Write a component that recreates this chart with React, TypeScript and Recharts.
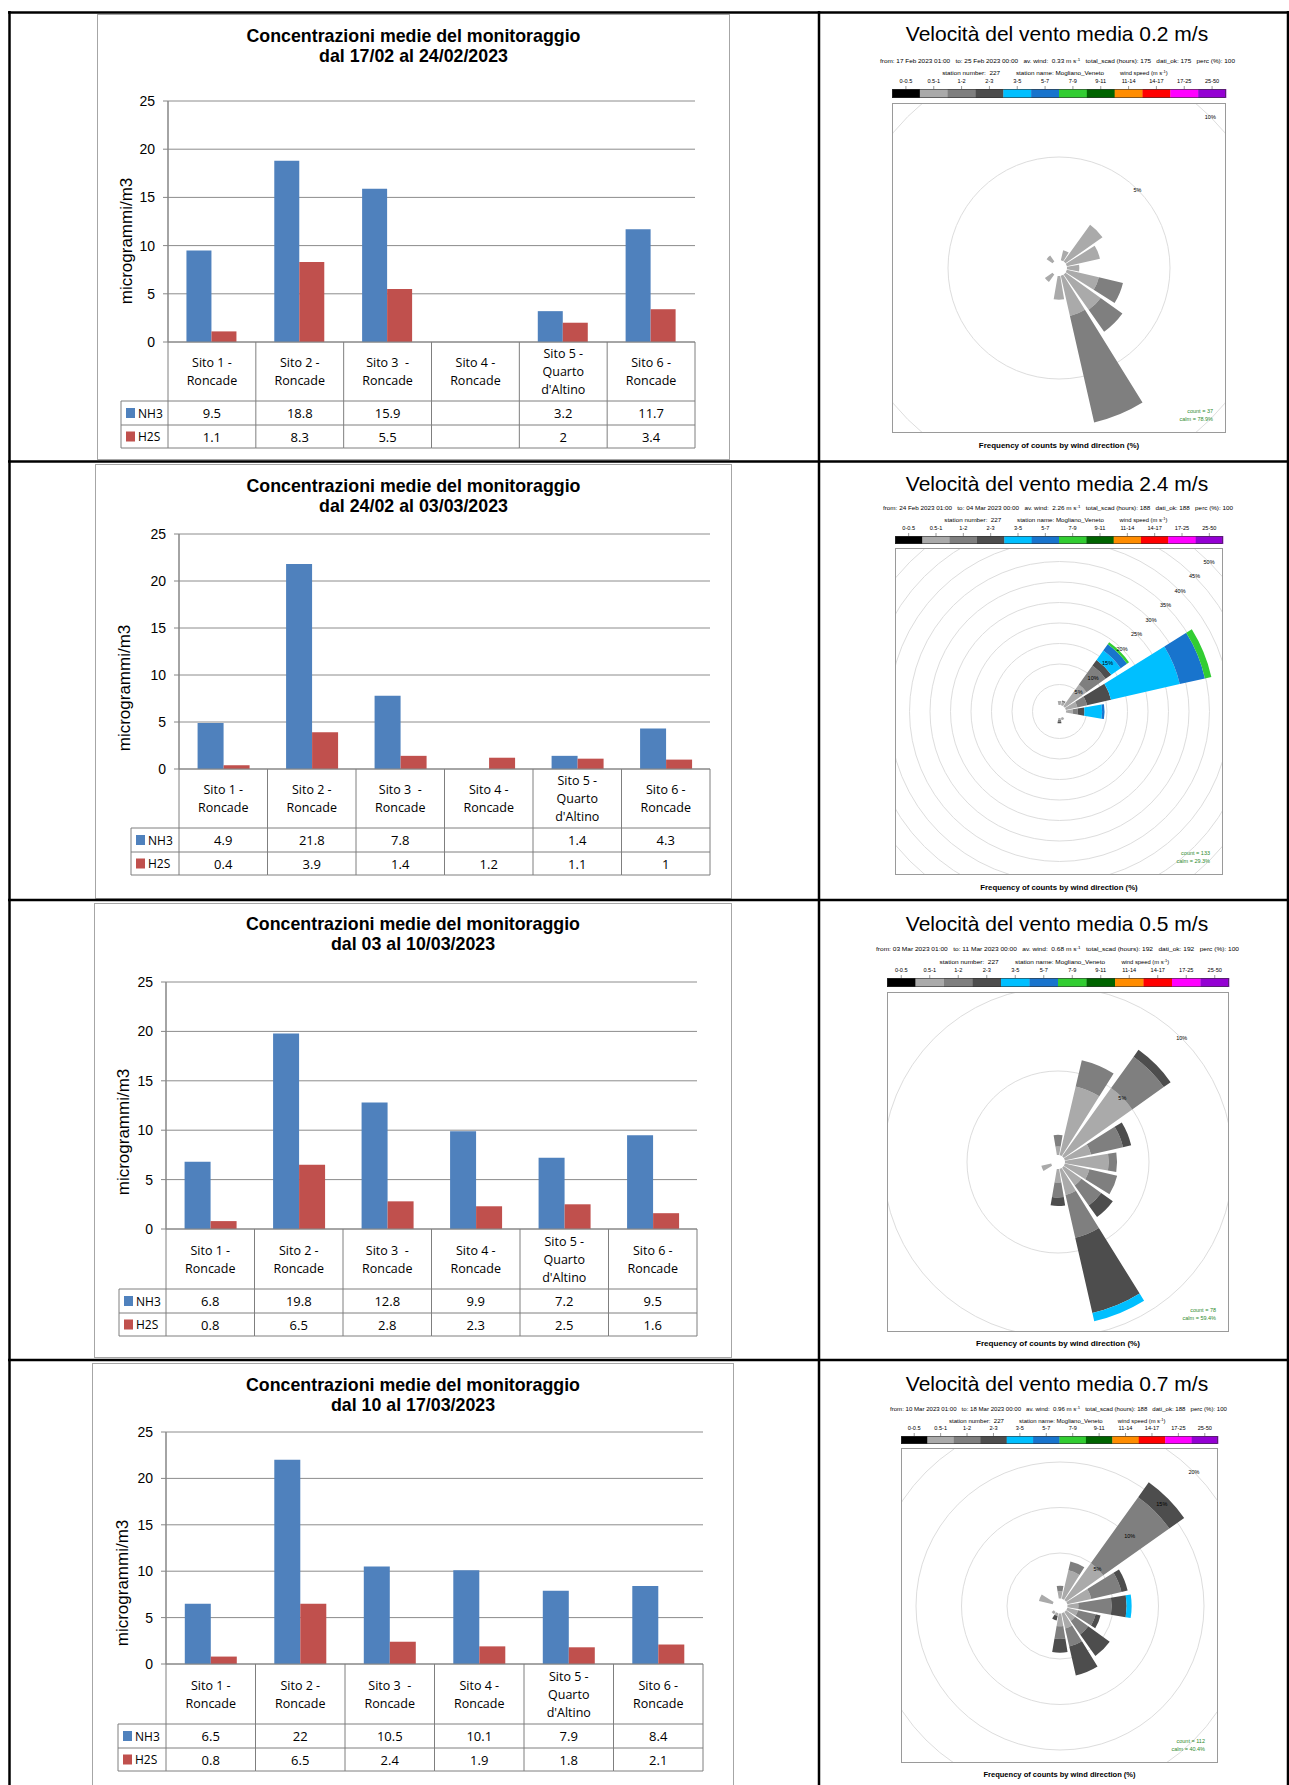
import React from 'react';
import {
  BarChart, Bar, XAxis, YAxis, CartesianGrid,
  RadialBarChart, RadialBar, PolarAngleAxis, PolarRadiusAxis, PolarGrid,
} from 'recharts';

const W = 1289;
const H = 1785;

const ARIAL = '"Liberation Sans", Arial, sans-serif';
const TABLE_FONT = '"Open Sans", "Liberation Sans", sans-serif';
const NH3_COLOR = '#4f81bd';
const H2S_COLOR = '#c0504d';
const LINE = '#7f7f7f';

// ---------- concentrations (µg/m3) ----------
const sites = ['Sito 1 - Roncade', 'Sito 2 - Roncade', 'Sito 3  - Roncade', 'Sito 4 - Roncade', "Sito 5 - Quarto d'Altino", 'Sito 6 - Roncade'];
const siteLines = [['Sito 1 -', 'Roncade'], ['Sito 2 -', 'Roncade'], ['Sito 3  -', 'Roncade'], ['Sito 4 -', 'Roncade'], ['Sito 5 -', 'Quarto', "d'Altino"], ['Sito 6 -', 'Roncade']];
const yTicks = [0, 5, 10, 15, 20, 25];

const periods = ['dal 17/02 al 24/02/2023', 'dal 24/02 al 03/03/2023', 'dal 03 al 10/03/2023', 'dal 10 al 17/03/2023'];

const nh3W1 = [9.5, 18.8, 15.9, null, 3.2, 11.7];
const h2sW1 = [1.1, 8.3, 5.5, null, 2, 3.4];
const nh3W2 = [4.9, 21.8, 7.8, null, 1.4, 4.3];
const h2sW2 = [0.4, 3.9, 1.4, 1.2, 1.1, 1];
const nh3W3 = [6.8, 19.8, 12.8, 9.9, 7.2, 9.5];
const h2sW3 = [0.8, 6.5, 2.8, 2.3, 2.5, 1.6];
const nh3W4 = [6.5, 22, 10.5, 10.1, 7.9, 8.4];
const h2sW4 = [0.8, 6.5, 2.4, 1.9, 1.8, 2.1];

// ---------- wind roses: frequency (%) per direction and speed class ----------
const directions = ['N', 'NNE', 'NE', 'ENE', 'E', 'ESE', 'SE', 'SSE', 'S', 'SSW', 'SW', 'WSW', 'W', 'WNW', 'NW', 'NNW'];
const speedClasses = ['0-0.5', '0.5-1', '1-2', '2-3', '3-5', '5-7', '7-9', '9-11', '11-14', '14-17', '17-25', '25-50'];
const speedColors = ['#000000', '#aaaaaa', '#7f7f7f', '#4d4d4d', '#00bfff', '#1874cd', '#32cd32', '#006400', '#ff8c00', '#ff0000', '#ff00ff', '#9400d3'];

const roseA_05 = [0, 0.5, 2.2, 1.65, 0.6, 1.6, 2.1, 2.0, 1.15, 0, 0.45, 0, 0, 0, 0.35, 0];
const roseA_12 = [0, 0, 0, 0, 0, 1.2, 1.3, 5.3, 0, 0, 0, 0, 0, 0, 0, 0];

const roseB_05 = [1.0, 0.8, 6.5, 2.9, 1.7, 0, 0, 0.6, 0.5, 0, 0, 0, 0, 0, 0, 0];
const roseB_12 = [0, 0.4, 5.7, 2.4, 1.2, 0, 0, 0, 0.4, 0, 0, 0, 0, 0, 0, 0];
const roseB_23 = [0, 0, 1.7, 6.0, 1.6, 0, 0, 0, 0.4, 0, 0, 0, 0, 0, 0, 0];
const roseB_35 = [0, 0, 2.8, 17.2, 4.3, 0, 0, 0, 0, 0, 0, 0, 0, 0, 0, 0];
const roseB_57 = [0, 0, 1.9, 6.3, 0.6, 0, 0, 0, 0, 0, 0, 0, 0, 0, 0, 0];
const roseB_79 = [0, 0, 0.6, 1.6, 0, 0, 0, 0, 0, 0, 0, 0, 0, 0, 0, 0];

const roseC_05 = [0.5, 4.2, 5.0, 1.6, 2.6, 1.5, 1.3, 1.6, 0.8, 0, 0, 0.6, 0, 0, 0, 0];
const roseC_12 = [0.7, 1.6, 2.3, 1.95, 0.5, 1.7, 1.45, 2.6, 0.9, 0, 0, 0, 0, 0, 0, 0];
const roseC_23 = [0, 0, 0.5, 0.5, 0, 0, 0.85, 4.6, 0.5, 0, 0, 0, 0, 0, 0, 0];
const roseC_35 = [0, 0, 0, 0, 0, 0, 0, 0.5, 0, 0, 0, 0, 0, 0, 0, 0];

const roseD_05 = [0.8, 3.2, 5.0, 2.7, 1.2, 1.2, 1.2, 1.7, 1.4, 0.3, 0.3, 0, 0, 1.55, 0, 0];
const roseD_12 = [0.6, 1.0, 8.9, 3.4, 3.65, 2.0, 1.8, 2.05, 1.4, 0, 0, 0, 0, 0, 0, 0];
const roseD_23 = [0, 0, 2.0, 0.7, 1.65, 0.55, 2.9, 3.25, 1.5, 0.5, 0, 0, 0, 0, 0, 0];
const roseD_35 = [0, 0, 0, 0, 0.55, 0, 0, 0, 0, 0, 0, 0, 0, 0, 0, 0];

const roseMean = ['0.2', '2.4', '0.5', '0.7'];
const roseFrom = ['17 Feb 2023 01:00', '24 Feb 2023 01:00', '03 Mar 2023 01:00', '10 Mar 2023 01:00'];
const roseTo = ['25 Feb 2023 00:00', '04 Mar 2023 00:00', '11 Mar 2023 00:00', '18 Mar 2023 00:00'];
const roseAvWind = ['0.33', '2.26', '0.68', '0.96'];
const roseHours = [175, 188, 192, 188];
const roseCount = [37, 133, 78, 112];
const roseCalm = ['78.9', '29.3', '59.4', '40.4'];

type Series = { cls: number; values: number[] };
const roseSeries: Series[][] = [
  [{ cls: 1, values: roseA_05 }, { cls: 2, values: roseA_12 }],
  [{ cls: 1, values: roseB_05 }, { cls: 2, values: roseB_12 }, { cls: 3, values: roseB_23 }, { cls: 4, values: roseB_35 }, { cls: 5, values: roseB_57 }, { cls: 6, values: roseB_79 }],
  [{ cls: 1, values: roseC_05 }, { cls: 2, values: roseC_12 }, { cls: 3, values: roseC_23 }, { cls: 4, values: roseC_35 }],
  [{ cls: 1, values: roseD_05 }, { cls: 2, values: roseD_12 }, { cls: 3, values: roseD_23 }, { cls: 4, values: roseD_35 }],
];

// ---------- layout ----------
type BarGeo = { fl: number; ft: number; fr: number; fb: number; pl: number; pr: number; pt: number; pb: number; cat: number; r1: number; r2: number; leg: number; t1: number; ylx: number; yly: number };
const barGeo: BarGeo[] = [
  { fl: 97, ft: 14, fr: 730, fb: 460, pl: 168, pr: 695, pt: 101, pb: 342, cat: 401, r1: 425, r2: 448, leg: 121, t1: 36, ylx: 126, yly: 241 },
  { fl: 95, ft: 464, fr: 732, fb: 899, pl: 179, pr: 710, pt: 534, pb: 769, cat: 828, r1: 852, r2: 875, leg: 131, t1: 486, ylx: 124, yly: 688 },
  { fl: 94, ft: 903, fr: 732, fb: 1358, pl: 166, pr: 697, pt: 982, pb: 1229, cat: 1289, r1: 1313, r2: 1336, leg: 119, t1: 924, ylx: 123, yly: 1132 },
  { fl: 92, ft: 1363, fr: 734, fb: 1800, pl: 166, pr: 703, pt: 1432, pb: 1664, cat: 1724, r1: 1748, r2: 1771, leg: 118, t1: 1385, ylx: 122, yly: 1583 },
];

type RoseGeo = { l: number; r: number; t: number; b: number; barT: number; barB: number; titleY: number; headY: number; headL: number; headR: number; line2Y: number; clsY: number; footY: number; max: number; tickMax: number; inner: number; outer: number };
const roseGeo: RoseGeo[] = [
  { l: 892, r: 1226, t: 103, b: 433, barT: 89, barB: 98, titleY: 33, headY: 61, headL: 880, headR: 1235, line2Y: 73, clsY: 81, footY: 445, max: 10, tickMax: 10, inner: 8, outer: 214 },
  { l: 895, r: 1223, t: 548, b: 875, barT: 536, barB: 544, titleY: 483, headY: 508, headL: 883, headR: 1233, line2Y: 520, clsY: 528, footY: 887, max: 50, tickMax: 50, inner: 6.5, outer: 211.5 },
  { l: 887, r: 1229, t: 992, b: 1332, barT: 978, barB: 987, titleY: 923, headY: 949, headL: 876, headR: 1239, line2Y: 962, clsY: 970, footY: 1343, max: 10, tickMax: 10, inner: 7, outer: 175 },
  { l: 901, r: 1218, t: 1448, b: 1763, barT: 1436, barB: 1444, titleY: 1383, headY: 1409, headL: 890, headR: 1227, line2Y: 1421, clsY: 1428, footY: 1774, max: 25, tickMax: 20, inner: 7.5, outer: 235 },
];

const fmt = (v: number | null) => (v == null ? '' : String(v));

function makeTableTick(g: BarGeo, nh3: (number | null)[], h2s: (number | null)[]) {
  const bw = (g.pr - g.pl) / sites.length;
  const catH = g.cat - g.pb;
  const r1 = g.r1 - g.pb;
  const r2 = g.r2 - g.pb;
  const legX = g.leg - g.fl;
  return (p: any) => {
    const { x, y, index } = p;
    const l = x - bw / 2;
    const r = x + bw / 2;
    const lines = siteLines[index];
    const mid = y + catH / 2;
    const txt = { textAnchor: 'middle' as const, dominantBaseline: 'central' as const, fontFamily: TABLE_FONT, fill: '#000' };
    return (
      <g>
        <line x1={l} y1={y} x2={l} y2={y + r2} stroke={LINE} />
        {index === sites.length - 1 && <line x1={r} y1={y} x2={r} y2={y + r2} stroke={LINE} />}
        {[catH, r1, r2].map((d) => <line key={d} x1={l} x2={r} y1={y + d} y2={y + d} stroke={LINE} />)}
        {lines.map((t, k) => (
          <text key={k} x={x} y={mid + (k - (lines.length - 1) / 2) * 18} fontSize={12.5} style={{ whiteSpace: 'pre' }} {...txt}>{t}</text>
        ))}
        <text x={x} y={y + (catH + r1) / 2} fontSize={13} {...txt}>{fmt(nh3[index])}</text>
        <text x={x} y={y + (r1 + r2) / 2} fontSize={13} {...txt}>{fmt(h2s[index])}</text>
        {index === 0 && (
          <g>
            {[catH, r1, r2].map((d) => <line key={d} x1={legX} x2={l} y1={y + d} y2={y + d} stroke={LINE} />)}
            <line x1={legX} x2={legX} y1={y + catH} y2={y + r2} stroke={LINE} />
            <rect x={legX + 5} y={y + (catH + r1) / 2 - 5} width={9} height={10} fill={NH3_COLOR} />
            <text x={legX + 17} y={y + (catH + r1) / 2} fontSize={12} dominantBaseline="central" fontFamily={TABLE_FONT} fill="#000">NH3</text>
            <rect x={legX + 5} y={y + (r1 + r2) / 2 - 5} width={9} height={10} fill={H2S_COLOR} />
            <text x={legX + 17} y={y + (r1 + r2) / 2} fontSize={12} dominantBaseline="central" fontFamily={TABLE_FONT} fill="#000">H2S</text>
          </g>
        )}
      </g>
    );
  };
}

function ConcChart({ g, period, nh3, h2s }: { g: BarGeo; period: string; nh3: (number | null)[]; h2s: (number | null)[] }) {
  const data = sites.map((s, i) => ({ site: s, NH3: nh3[i], H2S: h2s[i] }));
  const w = g.fr - g.fl;
  const h = g.fb - g.ft;
  return (
    <div style={{ position: 'absolute', left: g.fl, top: g.ft, width: w, height: h }}>
      <div style={{ position: 'absolute', left: 0, top: 0, width: w, height: h, border: '1px solid #a6a6a6', boxSizing: 'border-box' }} />
      <BarChart
        width={w}
        height={h}
        data={data}
        margin={{ top: g.pt - g.ft, right: g.fr - g.pr, bottom: g.fb - g.r2, left: 0 }}
        barCategoryGap="21%"
        barGap={0}
      >
        <CartesianGrid vertical={false} stroke="#8c8c8c" />
        <XAxis
          dataKey="site"
          type="category"
          height={g.r2 - g.pb}
          interval={0}
          tickLine={false}
          tickSize={0}
          tickMargin={0}
          axisLine={{ stroke: '#868686' }}
          tick={makeTableTick(g, nh3, h2s)}
        />
        <YAxis
          type="number"
          domain={[0, 25]}
          ticks={yTicks}
          width={g.pl - g.fl}
          tickSize={5}
          tickMargin={8}
          axisLine={{ stroke: '#868686', strokeWidth: 1.5 }}
          tickLine={{ stroke: '#868686' }}
          tick={{ fontSize: 14, fill: '#000', fontFamily: ARIAL }}
        />
        <Bar dataKey="NH3" fill={NH3_COLOR} isAnimationActive={false} />
        <Bar dataKey="H2S" fill={H2S_COLOR} isAnimationActive={false} />
      </BarChart>
      <svg width={w} height={h} style={{ position: 'absolute', left: 0, top: 0, pointerEvents: 'none' }}>
        <text x={w / 2} y={g.t1 - g.ft} textAnchor="middle" dominantBaseline="central" fontSize={17.8} fontWeight="bold" fontFamily={ARIAL} fill="#000">
          Concentrazioni medie del monitoraggio
        </text>
        <text x={w / 2} y={g.t1 - g.ft + 20} textAnchor="middle" dominantBaseline="central" fontSize={17.8} fontWeight="bold" fontFamily={ARIAL} fill="#000">
          {period}
        </text>
        <text
          x={g.ylx - g.fl}
          y={g.yly - g.ft}
          transform={`rotate(-90 ${g.ylx - g.fl} ${g.yly - g.ft})`}
          textAnchor="middle"
          dominantBaseline="central"
          fontSize={17}
          fontFamily={ARIAL}
          fill="#000"
        >
          microgrammi/m3
        </text>
      </svg>
    </div>
  );
}

function WindRose({ g, idx }: { g: RoseGeo; idx: number }) {
  const series = roseSeries[idx];
  const data = directions.map((d, i) => {
    const row: Record<string, string | number> = { dir: d };
    series.forEach((s) => { row[`c${s.cls}`] = s.values[i]; });
    return row;
  });
  const ticks: number[] = [];
  for (let v = 5; v <= g.tickMax; v += 5) ticks.push(v);
  const size = Math.ceil(2 * (g.outer + 6));
  const bw = g.r - g.l;
  const bh = g.b - g.t;
  // north band centred at the top, directions running clockwise
  const start = 78.75;
  return (
    <div style={{ position: 'absolute', left: g.l, top: g.t, width: bw, height: bh, overflow: 'hidden', border: '1px solid #9a9a9a', boxSizing: 'border-box' }}>
      <div style={{ position: 'absolute', left: bw / 2 - size / 2 - 1, top: bh / 2 - size / 2 - 1 }}>
        <RadialBarChart
          width={size}
          height={size}
          cx={size / 2}
          cy={size / 2}
          innerRadius={g.inner}
          outerRadius={g.outer}
          startAngle={start}
          endAngle={start - 360}
          layout="centric"
          data={data}
          barCategoryGap="7%"
          margin={{ top: 0, right: 0, bottom: 0, left: 0 }}
        >
          <PolarGrid gridType="circle" radialLines={false} stroke="#dddddd" />
          <PolarAngleAxis type="category" dataKey="dir" tick={false} axisLine={false} tickLine={false} />
          <PolarRadiusAxis
            type="number"
            angle={45}
            domain={[0, g.max]}
            ticks={ticks}
            axisLine={false}
            tick={(p: any) => (
              <text x={p.x} y={p.y} textAnchor="middle" dominantBaseline="central" fontSize={5.5} fontFamily={ARIAL} fill="#000">
                {`${p.payload.value}%`}
              </text>
            )}
          />
          {series.map((s) => (
            <RadialBar key={s.cls} dataKey={`c${s.cls}`} stackId="speed" fill={speedColors[s.cls]} isAnimationActive={false} />
          ))}
        </RadialBarChart>
      </div>
    </div>
  );
}

function RoseHeader({ g, idx }: { g: RoseGeo; idx: number }) {
  const segW = (g.r - g.l) / speedClasses.length;
  const hw = g.headR - g.headL;
  const small = { fontFamily: ARIAL, fill: '#000', dominantBaseline: 'central' as const, style: { whiteSpace: 'pre' as const } };
  const cx = (g.l + g.r) / 2;
  return (
    <g>
      <text x={1057} y={g.titleY} textAnchor="middle" dominantBaseline="central" fontSize={21} fontFamily={ARIAL} fill="#000">
        {`Velocità del vento media ${roseMean[idx]} m/s`}
      </text>
      <text x={g.headL} y={g.headY} fontSize={5.8} textLength={hw} lengthAdjust="spacingAndGlyphs" {...small}>
        {`from: ${roseFrom[idx]}   to: ${roseTo[idx]}   av. wind:  ${roseAvWind[idx]} m s`}
        <tspan dy={-2} fontSize={4}>-1</tspan>
        <tspan dy={2}>{`   total_scad (hours): ${roseHours[idx]}   dati_ok: ${roseHours[idx]}   perc (%): 100`}</tspan>
      </text>
      <text x={g.headL + hw * 0.175} y={g.line2Y} fontSize={5.8} textLength={hw * 0.163} lengthAdjust="spacingAndGlyphs" {...small}>station number:  227</text>
      <text x={g.headL + hw * 0.383} y={g.line2Y} fontSize={5.8} textLength={hw * 0.248} lengthAdjust="spacingAndGlyphs" {...small}>station name: Mogliano_Veneto</text>
      <text x={g.headL + hw * 0.676} y={g.line2Y} fontSize={5.8} {...small}>
        wind speed (m s<tspan dy={-2} fontSize={4}>-1</tspan><tspan dy={2}>)</tspan>
      </text>
      {speedClasses.map((c, k) => (
        <g key={c}>
          <text x={g.l + (k + 0.5) * segW} y={g.clsY} textAnchor="middle" fontSize={5.6} {...small}>{c}</text>
          <line x1={g.l + (k + 0.5) * segW} x2={g.l + (k + 0.5) * segW} y1={g.barT - 3} y2={g.barT} stroke="#555" strokeWidth={0.6} />
          <rect x={g.l + k * segW} y={g.barT} width={segW + 0.3} height={g.barB - g.barT} fill={speedColors[k]} />
        </g>
      ))}
      <rect x={g.l + 0.5} y={g.barT + 0.5} width={g.r - g.l - 1} height={g.barB - g.barT - 1} fill="none" stroke="#333" strokeWidth={0.6} />
      <text x={g.r - 13} y={g.b - 22} textAnchor="end" fontSize={5.5} {...small} fill="#2e8b2e">{`count = ${roseCount[idx]}`}</text>
      <text x={g.r - 13} y={g.b - 14} textAnchor="end" fontSize={5.5} {...small} fill="#2e8b2e">{`calm = ${roseCalm[idx]}%`}</text>
      <text x={cx} y={g.footY} textAnchor="middle" dominantBaseline="central" fontSize={8} fontWeight="bold" fontFamily={ARIAL} fill="#000" textLength={(g.r - g.l) * 0.48} lengthAdjust="spacingAndGlyphs">
        Frequency of counts by wind direction (%)
      </text>
    </g>
  );
}

const weekNh3 = [nh3W1, nh3W2, nh3W3, nh3W4];
const weekH2s = [h2sW1, h2sW2, h2sW3, h2sW4];

export default function App() {
  return (
    <div style={{ position: 'absolute', left: 0, top: 0, width: W, height: H, overflow: 'hidden', background: '#fff' }}>
      {barGeo.map((g, i) => (
        <ConcChart key={i} g={g} period={periods[i]} nh3={weekNh3[i]} h2s={weekH2s[i]} />
      ))}
      {roseGeo.map((g, i) => (
        <WindRose key={i} g={g} idx={i} />
      ))}
      <svg width={W} height={H} style={{ position: 'absolute', left: 0, top: 0, pointerEvents: 'none' }}>
        {/* outer table grid */}
        <line x1={9.5} x2={9.5} y1={11} y2={H} stroke="#000" strokeWidth={2.5} />
        <line x1={1288} x2={1288} y1={11} y2={H} stroke="#000" strokeWidth={2.5} />
        <line x1={819} x2={819} y1={11} y2={H} stroke="#000" strokeWidth={2.5} />
        {[12.5, 461.5, 900, 1360].map((y) => (
          <line key={y} x1={8} x2={W} y1={y} y2={y} stroke="#000" strokeWidth={2.5} />
        ))}
        {roseGeo.map((g, i) => (
          <RoseHeader key={i} g={g} idx={i} />
        ))}
      </svg>
    </div>
  );
}
